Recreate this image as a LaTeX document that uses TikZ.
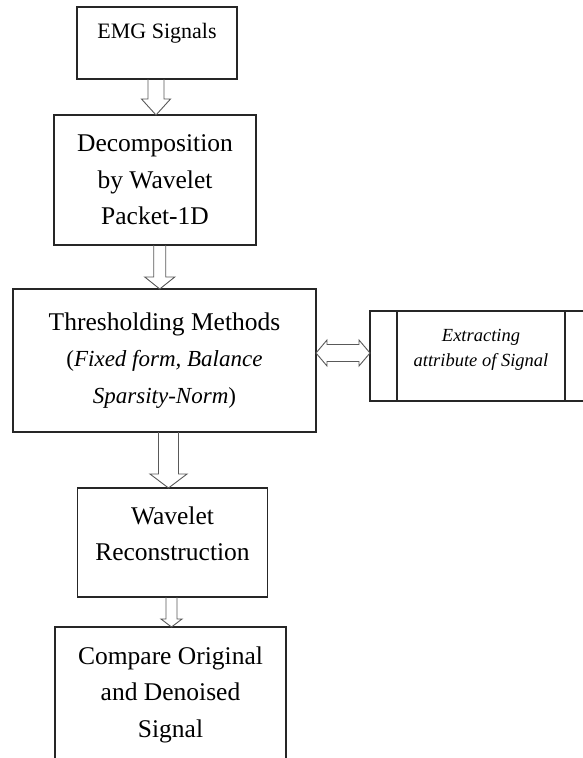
\documentclass[tikz,border=0pt]{standalone}
\usepackage{fontspec}
\setmainfont{Liberation Serif}
\usetikzlibrary{calc}

\newcommand{\bigsize}{\fontsize{25.5}{36.5}\selectfont}
\newcommand{\emgsize}{\fontsize{22}{30}\selectfont}
\newcommand{\notesize}{\fontsize{23}{37.5}\selectfont}
\newcommand{\smallsize}{\fontsize{18.5}{25}\selectfont}

\tikzset{
  box/.style={draw=black!85, line width=1.1pt, inner sep=0pt, outer sep=0pt,
    align=center, font=\bigsize},
  boxline/.style={draw=black!85, line width=1.1pt},
  hollow/.style={draw=black!65, line width=0.9pt, line join=miter},
}

% hollow arrow: from, to, shaft half width, head half width, head length
\newcommand{\hollowarrow}[5]{%
  \draw[hollow] let \p1=(#1.south), \p2=(#2.north), \n1={(\x1+\x2)/2} in
    ({\n1-#3pt},\y1) -- ({\n1-#3pt},{\y2+#5pt}) -- ({\n1-#4pt},{\y2+#5pt})
    -- (\n1,\y2) -- ({\n1+#4pt},{\y2+#5pt}) -- ({\n1+#3pt},{\y2+#5pt})
    -- ({\n1+#3pt},\y1);}

\begin{document}
\begin{tikzpicture}[x=1pt,y=-1pt]
    \useasboundingbox (0,0) rectangle (582,758);

    \node[box, font=\emgsize, minimum width=160, minimum height=72, text depth=25pt] (emg) at (157,43) {EMG Signals};
    \node[box, minimum width=202, minimum height=130] (wpd) at (155,180) {Decomposition\\by Wavelet\\Packet-1D};
    \node[box, minimum width=303, minimum height=143] (thr) at (164.5,360.5)
        {Thresholding Methods\\ \notesize(\textit{Fixed form, Balance}\\ \notesize\textit{Sparsity-Norm})};
    \node[box, minimum width=190, minimum height=109, text depth=18pt] (rec) at (172.5,542.5) {Wavelet\\Reconstruction};
    \node[box, minimum width=231, minimum height=135] (cmp) at (170.5,694.5) {Compare Original\\and Denoised\\Signal};
    \node[box, font=\smallsize\itshape, minimum width=222, minimum height=90, text depth=16pt] (ext) at (481,356)
        {Extracting\\attribute of Signal};
    \draw[boxline] ([xshift=27pt]ext.north west) -- ([xshift=27pt]ext.south west);
    \draw[boxline] ([xshift=-27pt]ext.north east) -- ([xshift=-27pt]ext.south east);

    \hollowarrow{emg}{wpd}{8}{14.5}{16}
    \hollowarrow{wpd}{thr}{6}{15}{12}
    \hollowarrow{thr}{rec}{10}{18.5}{14}
    \hollowarrow{rec}{cmp}{5.5}{10.5}{8}

    % two-way arrow to the side box
    \coordinate (dbl) at ($(ext.west)+(0,-3)$);
    \draw[hollow] let \p1=(thr.east), \p2=(ext.west), \p3=(dbl) in
        (\x1,\y3) -- ({\x1+11pt},{\y3+13pt}) -- ({\x1+11pt},{\y3+8.5pt})
        -- ({\x2-11pt},{\y3+8.5pt}) -- ({\x2-11pt},{\y3+13pt}) -- (\x2,\y3)
        -- ({\x2-11pt},{\y3-13pt}) -- ({\x2-11pt},{\y3-8.5pt})
        -- ({\x1+11pt},{\y3-8.5pt}) -- ({\x1+11pt},{\y3-13pt}) -- cycle;
\end{tikzpicture}
\end{document}
